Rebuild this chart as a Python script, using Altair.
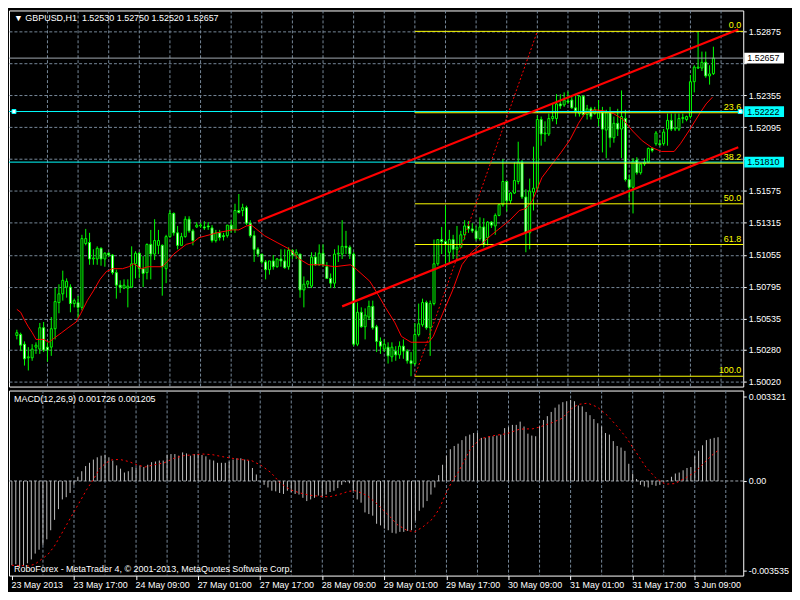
import json
import altair as alt
import pandas as pd

FONT = "Liberation Sans"

# ---------------- data ----------------
opens = [1.50398,1.50406,1.50327,1.50216,1.50216,1.50303,1.50287,1.50461,1.50303,1.50303,
1.50453,1.50666,1.50737,1.50792,1.50792,1.50658,1.50666,1.50627,1.51147,1.51155,
1.51021,1.51021,1.51108,1.51021,1.51068,1.51053,1.50910,1.50808,1.50784,1.50784,
1.50792,1.50982,1.51068,1.50942,1.50910,1.51140,1.51061,1.51132,1.51132,1.50942,
1.51203,1.51392,1.51234,1.51132,1.51203,1.51345,1.51250,1.51282,1.51290,1.51282,
1.51290,1.51274,1.51171,1.51234,1.51211,1.51211,1.51297,1.51258,1.51416,1.51416,
1.51439,1.51313,1.51211,1.51100,1.51061,1.50997,1.50934,1.51005,1.50958,1.51021,
1.51005,1.50958,1.51092,1.51053,1.51061,1.50769,1.50816,1.50800,1.51037,1.50974,
1.51068,1.50958,1.50863,1.50824,1.51061,1.51061,1.51124,1.51116,1.51061,1.50327,
1.50587,1.50469,1.50548,1.50635,1.50469,1.50350,1.50287,1.50303,1.50224,1.50271,
1.50240,1.50311,1.50271,1.50192,1.50169,1.50406,1.50485,1.50666,1.50461,1.50658,
1.50982,1.51179,1.51163,1.51076,1.51179,1.51100,1.51116,1.51218,1.51290,1.51266,
1.51250,1.51187,1.51282,1.51195,1.51321,1.51290,1.51376,1.51463,1.51652,1.51495,
1.51558,1.51652,1.51810,1.51526,1.51234,1.51566,1.51597,1.52157,1.52039,1.52039,
1.52165,1.52165,1.52284,1.52276,1.52307,1.52315,1.52252,1.52205,1.52347,1.52197,
1.52244,1.52205,1.52165,1.52213,1.52071,1.52213,1.52008,1.52126,1.52079,1.52165,
1.51668,1.51605,1.51826,1.51724,1.51795,1.51810,1.51921,1.51960,1.51960,1.51960,
1.52079,1.52150,1.52079,1.52079,1.52165,1.52157,1.52181,1.52465,1.52576,1.52576,
1.52623,1.52512,1.52530]

highs = [1.50445,1.50421,1.50350,1.50303,1.50327,1.50342,1.50500,1.50508,1.50342,1.50548,
1.50785,1.50815,1.50926,1.50863,1.50815,1.50698,1.50721,1.51218,1.51266,1.51234,
1.51100,1.51124,1.51116,1.51076,1.51076,1.51061,1.50934,1.50847,1.50855,1.50855,
1.51124,1.51084,1.51076,1.51045,1.51147,1.51258,1.51345,1.51258,1.51140,1.51218,
1.51416,1.51400,1.51290,1.51234,1.51369,1.51369,1.51266,1.51321,1.51313,1.51329,
1.51321,1.51297,1.51258,1.51258,1.51234,1.51297,1.51337,1.51471,1.51550,1.51471,
1.51455,1.51337,1.51250,1.51116,1.51061,1.51013,1.51005,1.51053,1.51029,1.51100,
1.51100,1.51116,1.51100,1.51100,1.51061,1.50879,1.50847,1.51076,1.51076,1.51140,
1.51140,1.50997,1.50903,1.51100,1.51132,1.51337,1.51250,1.51132,1.51076,1.50666,
1.50627,1.50619,1.50682,1.50682,1.50485,1.50382,1.50366,1.50342,1.50342,1.50311,
1.50350,1.50366,1.50287,1.50263,1.50500,1.50658,1.50698,1.50682,1.50682,1.51179,
1.51179,1.51282,1.51455,1.51258,1.51218,1.51290,1.51250,1.51337,1.51329,1.51313,
1.51290,1.51360,1.51353,1.51329,1.51329,1.51392,1.51471,1.51834,1.51652,1.51566,
1.51810,1.51976,1.51826,1.51589,1.51676,1.51936,1.52189,1.52181,1.52142,1.52205,
1.52292,1.52363,1.52363,1.52378,1.52386,1.52355,1.52355,1.52355,1.52355,1.52276,
1.52260,1.52260,1.52315,1.52260,1.52236,1.52260,1.52181,1.52244,1.52394,1.52236,
1.51708,1.51842,1.51850,1.51802,1.51842,1.51929,1.51929,1.52063,1.51992,1.52079,
1.52205,1.52205,1.52205,1.52205,1.52205,1.52189,1.52520,1.52599,1.52875,1.52710,
1.52710,1.52599,1.52750]

lows = [1.50366,1.50271,1.50153,1.50113,1.50192,1.50248,1.50248,1.50263,1.50184,1.50232,
1.50366,1.50579,1.50682,1.50706,1.50587,1.50627,1.50540,1.50603,1.51132,1.50974,
1.50974,1.50974,1.50966,1.50958,1.51037,1.50894,1.50698,1.50745,1.50776,1.50627,
1.50784,1.50863,1.50863,1.50792,1.50855,1.50855,1.51013,1.51061,1.50722,1.50824,
1.51195,1.51211,1.51100,1.51132,1.51195,1.51234,1.51132,1.51274,1.51274,1.51258,
1.51258,1.51155,1.51155,1.51171,1.51171,1.51195,1.51234,1.51234,1.51392,1.51369,
1.51297,1.51195,1.50997,1.51037,1.50982,1.50855,1.50894,1.50934,1.50950,1.50958,
1.50942,1.50934,1.51021,1.51021,1.50706,1.50627,1.50784,1.50784,1.50966,1.50966,
1.50958,1.50863,1.50784,1.50784,1.50997,1.51021,1.51061,1.51021,1.50311,1.50311,
1.50461,1.50366,1.50524,1.50445,1.50263,1.50248,1.50263,1.50169,1.50184,1.50192,
1.50208,1.50208,1.50169,1.50066,1.50153,1.50390,1.50469,1.50445,1.50232,1.50643,
1.50966,1.51061,1.50982,1.50982,1.51021,1.51021,1.51116,1.51179,1.51234,1.51234,
1.51171,1.51171,1.51116,1.51132,1.51274,1.51218,1.51369,1.51447,1.51408,1.51471,
1.51550,1.51629,1.51510,1.51076,1.51100,1.51416,1.51581,1.51944,1.51976,1.52023,
1.52142,1.52118,1.52244,1.52260,1.52284,1.52244,1.52181,1.52181,1.52181,1.52157,
1.52157,1.52197,1.52102,1.51889,1.51842,1.51929,1.51968,1.52023,1.51842,1.51652,
1.51495,1.51392,1.51708,1.51708,1.51779,1.51802,1.51889,1.51944,1.51944,1.51944,
1.51944,1.52063,1.52063,1.52063,1.52126,1.52142,1.52165,1.52378,1.52568,1.52552,
1.52497,1.52441,1.52520]

closes = [1.50421,1.50319,1.50208,1.50224,1.50287,1.50319,1.50461,1.50279,1.50279,1.50453,
1.50674,1.50737,1.50847,1.50839,1.50658,1.50682,1.50627,1.51187,1.51187,1.51021,
1.51029,1.51108,1.51021,1.51068,1.51053,1.50910,1.50808,1.50792,1.50808,1.50800,
1.50982,1.51068,1.50942,1.50903,1.51140,1.51061,1.51171,1.51171,1.50958,1.51203,
1.51392,1.51234,1.51132,1.51203,1.51345,1.51250,1.51171,1.51297,1.51297,1.51274,
1.51282,1.51171,1.51234,1.51195,1.51203,1.51297,1.51258,1.51416,1.51400,1.51439,
1.51313,1.51211,1.51100,1.51061,1.50997,1.50934,1.51005,1.50958,1.51021,1.51005,
1.50950,1.51092,1.51053,1.51076,1.50769,1.50816,1.50839,1.51037,1.50974,1.51068,
1.50974,1.50863,1.50824,1.51061,1.51068,1.51124,1.51116,1.51061,1.50327,1.50587,
1.50469,1.50564,1.50635,1.50461,1.50350,1.50311,1.50327,1.50232,1.50303,1.50240,
1.50311,1.50271,1.50192,1.50169,1.50406,1.50493,1.50666,1.50461,1.50658,1.50982,
1.51179,1.51163,1.51140,1.51179,1.51100,1.51116,1.51218,1.51290,1.51266,1.51250,
1.51187,1.51282,1.51140,1.51321,1.51297,1.51376,1.51463,1.51652,1.51495,1.51558,
1.51660,1.51810,1.51526,1.51234,1.51574,1.51597,1.52157,1.52039,1.52047,1.52165,
1.52181,1.52284,1.52268,1.52315,1.52299,1.52252,1.52228,1.52347,1.52197,1.52244,
1.52181,1.52236,1.52213,1.52079,1.52213,1.52008,1.52126,1.52079,1.52181,1.51668,
1.51605,1.51818,1.51724,1.51795,1.51810,1.51921,1.51905,1.52047,1.51952,1.52055,
1.52150,1.52079,1.52087,1.52165,1.52173,1.52181,1.52465,1.52584,1.52584,1.52623,
1.52512,1.52528,1.52657]

macd_hist = [-0.003325,-0.003287,-0.003377,-0.003351,-0.003249,-0.003095,-0.002865,-0.002711,-0.002520,-0.002302,
-0.001944,-0.001535,-0.001113,-0.000729,-0.000640,-0.000473,-0.000153,0.000166,0.000384,0.000588,
0.000716,0.000844,0.000934,0.000998,0.001036,0.000934,0.000806,0.000614,0.000486,0.000333,
0.000384,0.000550,0.000512,0.000614,0.000550,0.000640,0.000742,0.000767,0.000806,0.000806,
0.001036,0.001062,0.001062,0.000998,0.001126,0.001087,0.000998,0.001062,0.001062,0.001023,
0.000972,0.000844,0.000806,0.000716,0.000716,0.000716,0.000767,0.000844,0.000895,0.000895,
0.000844,0.000806,0.000512,0.000256,-0.000026,-0.000153,-0.000256,-0.000384,-0.000409,-0.000473,
-0.000512,-0.000384,-0.000435,-0.000512,-0.000537,-0.000665,-0.000793,-0.000729,-0.000665,-0.000576,
-0.000601,-0.000537,-0.000435,-0.000384,-0.000281,-0.000153,-0.000051,-0.000090,-0.000384,-0.000729,
-0.000857,-0.001241,-0.001305,-0.001369,-0.001688,-0.001752,-0.001880,-0.001944,-0.002046,-0.002072,
-0.002008,-0.002008,-0.001970,-0.001944,-0.001560,-0.001177,-0.001049,-0.000793,-0.000537,-0.000256,
0.000230,0.000640,0.000998,0.001253,0.001381,0.001471,0.001612,0.001765,0.001829,0.001893,
0.001893,0.001701,0.001701,0.001765,0.001765,0.001791,0.001829,0.002085,0.002123,0.002213,
0.002213,0.002341,0.002149,0.001867,0.001791,0.001765,0.002149,0.002405,0.002558,0.002724,
0.002891,0.003018,0.003108,0.003146,0.003198,0.003146,0.002980,0.002942,0.002724,0.002596,
0.002443,0.002277,0.002149,0.001893,0.001829,0.001573,0.001381,0.001317,0.001189,0.000678,
0.000294,0.000077,-0.000153,-0.000217,-0.000256,-0.000153,-0.000192,-0.000153,-0.000026,0.000020,
0.000166,0.000294,0.000333,0.000422,0.000512,0.000550,0.000972,0.001189,0.001407,0.001612,
0.001663,0.001701,0.001726]

ma_i = [0,1,2,3,4,5,7,8.4,10,11.75,13.4,15.5,16.75,18.4,20,21.75,23.4,25,27.6,29.25,30.5,32.6,
        34.25,38,39.25,41,42.6,44.25,46,47.6,50.5,52.2,56.3,58,60,61.3,64.7,68,71.3,73.8,76.3,
        79.7,83,87.2,88.8,92.2,94.25,96.3,98.8,100.5,103,107.6,108.8,111.3,113.8,116.3,118.8,
        121.3,123.8,126.3,128.8,131.3,133,134.7,137.2,139.7,142.2,144.5,146.75,148.4,150.9,
        153.4,155.9,158.4,160.9,163.4,165.9,168.4,171.75,173.4,175.9,178.4,180.1,181.75]
ma_price = [1.50611,1.50587,1.50524,1.50469,1.50422,1.50366,1.50366,1.50343,1.50382,1.50422,
            1.50461,1.50508,1.50579,1.50682,1.50761,1.50856,1.50919,1.50942,1.50942,1.50958,
            1.50982,1.50942,1.50958,1.50958,1.50998,1.51061,1.51100,1.51140,1.51155,1.51195,
            1.51219,1.51234,1.51258,1.51258,1.51290,1.51297,1.51211,1.51155,1.51100,1.51021,
            1.50974,1.50974,1.50958,1.50974,1.50935,1.50840,1.50737,1.50627,1.50501,1.50390,
            1.50343,1.50343,1.50390,1.50579,1.50761,1.50974,1.51077,1.51140,1.51211,1.51274,
            1.51337,1.51416,1.51432,1.51495,1.51684,1.51787,1.51889,1.51990,1.52126,1.52205,
            1.52236,1.52228,1.52205,1.52157,1.52063,1.51984,1.51929,1.51897,1.51897,1.51960,
            1.52079,1.52205,1.52284,1.52339]

sig_i = [0,4.25,5.9,7.6,9.25,10.9,12.6,14.25,15.9,17.6,19.25,20.9,22.6,24.25,25.9,28,30.1,32.2,
         34.25,36.75,39.25,41.75,44.25,46.75,49.25,51.75,54.25,56.75,59.25,61.75,64.25,66.75,
         69.25,71.75,74.25,76.75,79.25,81.75,84.25,86.75,88.4,90.1,91.75,94.25,95.9,97.6,99.25,
         101.75,103.8,105.9,108.4,110.1,111.75,113.4,115.1,116.75,118.4,120.9,124.25,127.6,
         130.9,134.25,135.9,139.25,141.75,144.25,145.9,148.4,150.9,153.4,155.9,158.4,160.9,
         163.4,165.9,168.4,170.9,173.4,175.9,178.4,180.1,182]
sig_val = [-0.003325,-0.003351,-0.003287,-0.003095,-0.002903,-0.002584,-0.002136,-0.001688,-0.001241,
           -0.000793,-0.000345,0.000038,0.000486,0.000716,0.000844,0.000844,0.000767,0.000640,
           0.000550,0.000640,0.000716,0.000895,0.000998,0.001036,0.001062,0.001036,0.000959,
           0.000895,0.000844,0.000806,0.000614,0.000333,-0.000090,-0.000345,-0.000473,-0.000563,
           -0.000601,-0.000627,-0.000537,-0.000409,-0.000384,-0.000473,-0.000601,-0.000921,
           -0.001177,-0.001432,-0.001714,-0.001944,-0.002008,-0.001816,-0.001496,-0.001113,
           -0.000537,-0.000026,0.000358,0.000844,0.001317,0.001675,0.001791,0.001867,0.002046,
           0.002059,0.002123,0.002302,0.002468,0.002852,0.003018,0.003070,0.002916,0.002596,
           0.002174,0.001701,0.001126,0.000550,0.000128,-0.000128,-0.000102,0.000102,0.000333,
           0.000716,0.000972,0.001205]

price_ticks = [1.52875,1.52615,1.52355,1.52095,1.51835,1.51575,1.51315,1.51055,1.50795,1.50535,1.50280,1.50020]
covered_ticks = [1.52615, 1.51835]   # hidden behind the price boxes in the reference
time_tick_i = [0,16,32,48,64,80,96,112,128,144,160,176]
time_labels = ["23 May 2013","23 May 17:00","24 May 09:00","27 May 01:00","27 May 17:00",
               "28 May 09:00","29 May 01:00","29 May 17:00","30 May 09:00","31 May 01:00",
               "31 May 17:00","3 Jun 09:00"]
vgrid_i = list(range(8, 189, 8))
macd_ticks = [0.003321, 0.0, -0.003535]
macd_tick_labels = ["0.003321", "0.00", "-0.003535"]

fib_levels = [0.0, 23.6, 38.2, 50.0, 61.8, 100.0]
fib_labels = ["0.0", "23.6", "38.2", "50.0", "61.8", "100.0"]
fib_high = 1.52875
fib_low = 1.50066
fib_start_i = 104
fib_end_i = 136

upper_i = [63, 188.5]
upper_p = [1.51329, 1.52890]
lower_i = [85, 188.5]
lower_p = [1.50635, 1.51931]

bid_price = 1.52657
hline_prices = [1.52222, 1.51810]

# ---------------- layout / style ----------------
W, H1, H2 = 738, 378, 186
GRID = "#778899"
LIME = "#00FF00"
CYAN = "#00FFFF"
xs = alt.Scale(domain=[-0.75, 188.5], nice=False, zero=False)
ys = alt.Scale(domain=[1.49982, 1.53045], nice=False, zero=False)
ms = alt.Scale(domain=[-0.003733, 0.003568], nice=False, zero=False)

hide_cond = " || ".join(f"abs(datum.value - {v}) < 0.000005" for v in covered_ticks)
price_label_expr = f"({hide_cond}) ? '' : format(datum.value, '.5f')"

AX_MAIN_X = alt.Axis(labels=False, ticks=False, domain=False, grid=False, title=None)
AX_MAIN_Y = alt.Axis(orient="right", values=price_ticks, labelExpr=price_label_expr, grid=True,
                     gridDash=[3, 2], gridColor=GRID, gridWidth=1, labelColor="white",
                     tickColor="white", tickSize=3, domain=False, title=None, labelFont=FONT,
                     labelFontSize=9, labelPadding=2, labelOverlap=False)
label_expr = json.dumps(time_labels) + "[round(datum.value / 16)]"
macd_label_expr = (f"datum.value > 0.001 ? '{macd_tick_labels[0]}' : "
                   f"(datum.value < -0.001 ? '{macd_tick_labels[2]}' : '{macd_tick_labels[1]}')")
AX_MACD_X = alt.Axis(values=time_tick_i, labelExpr=label_expr, labelAlign="left", labelColor="white",
                     tickColor="white", tickSize=4, domain=False, grid=False, title=None,
                     labelFont=FONT, labelFontSize=9, labelPadding=1, labelOffset=-1,
                     labelFlush=False, labelOverlap=False)
AX_MACD_Y = alt.Axis(orient="right", values=macd_ticks, labelExpr=macd_label_expr, labelColor="white",
                     tickColor="white", tickSize=3, domain=False, grid=False, title=None,
                     labelFont=FONT, labelFontSize=9, labelPadding=2, labelOverlap=False)

X = lambda f="i:Q": alt.X(f, scale=xs, axis=AX_MAIN_X)
Yp = lambda f: alt.Y(f, scale=ys, axis=AX_MAIN_Y)
XM = lambda f="i:Q": alt.X(f, scale=xs, axis=AX_MACD_X)
YM = lambda f: alt.Y(f, scale=ms, axis=AX_MACD_Y)

n = min(len(opens), len(highs), len(lows), len(closes))
df = pd.DataFrame({"i": list(range(n)), "open": opens[:n], "high": highs[:n],
                   "low": lows[:n], "close": closes[:n]})
df["high"] = df[["high", "open", "close"]].max(axis=1)
df["low"] = df[["low", "open", "close"]].min(axis=1)
df["bull"] = df["close"] >= df["open"]

vgrid_df = pd.DataFrame({"i": vgrid_i})
vgrid_main = alt.Chart(vgrid_df).mark_rule(color=GRID, strokeDash=[3, 2], strokeWidth=1).encode(x=X())

wicks = alt.Chart(df).mark_rule(color=LIME, strokeWidth=1).encode(x=X(), y=Yp("low:Q"), y2="high:Q")

bodies = alt.Chart(df).mark_bar(size=2, stroke=LIME, strokeWidth=1).encode(
    x=X(), y=Yp("open:Q"), y2="close:Q",
    fill=alt.condition("datum.bull", alt.value("black"), alt.value("white")))

ma_df = pd.DataFrame({"i": ma_i, "p": ma_price})
ma = alt.Chart(ma_df).mark_line(color="#FF0000", strokeWidth=1).encode(x=X(), y=Yp("p:Q"))

hl = alt.Chart(pd.DataFrame({"p": hline_prices})).mark_rule(color=CYAN, strokeWidth=1).encode(y=Yp("p:Q"))
bid = alt.Chart(pd.DataFrame({"p": [bid_price]})).mark_rule(color="#A0A8B0", strokeWidth=1).encode(y=Yp("p:Q"))

fib_df = pd.DataFrame({"lvl": fib_levels, "lab": fib_labels})
fib_df["p"] = fib_high - (fib_high - fib_low) * fib_df["lvl"] / 100.0
fib_df["i0"] = fib_start_i
fib_lines = alt.Chart(fib_df).mark_rule(color="#FFFF00", strokeWidth=1).encode(
    x=X("i0:Q"), x2=alt.value(W), y=Yp("p:Q"))
fib_text = alt.Chart(fib_df).mark_text(align="right", baseline="bottom", dy=-1, color="#FFFF00",
                                       font=FONT, fontSize=9).encode(
    x=alt.value(W - 2), y=Yp("p:Q"), text="lab:N")

diag_df = pd.DataFrame({"i": [fib_start_i, fib_end_i], "p": [fib_low, fib_high]})
diag = alt.Chart(diag_df).mark_line(color="#FF0000", strokeDash=[2, 2], strokeWidth=1).encode(
    x=X(), y=Yp("p:Q"))

tl_df = pd.DataFrame({"i": upper_i + lower_i, "p": upper_p + lower_p,
                      "line": ["u", "u", "l", "l"]})
trend = alt.Chart(tl_df).mark_line(color="#FF0000", strokeWidth=2.2, clip=True).encode(
    x=X(), y=Yp("p:Q"), detail="line:N")

box_df = pd.DataFrame({"p": [bid_price] + hline_prices,
                       "bg": ["#FFFFFF", CYAN, CYAN]})
box_df["lab"] = box_df["p"].map(lambda v: f"{v:.5f}")
boxes = alt.Chart(box_df).mark_point(
    shape="M-1,-0.27L1,-0.27L1,0.27L-1,0.27Z", filled=True, size=1600, opacity=1,
    strokeWidth=0).encode(x=alt.value(W + 21), y=Yp("p:Q"),
                          fill=alt.Fill("bg:N", scale=None))
box_text = alt.Chart(box_df).mark_text(align="left", baseline="middle", color="black",
                                       font=FONT, fontSize=9).encode(
    x=alt.value(W + 4), y=Yp("p:Q"), text="lab:N")

mark_df = pd.DataFrame({"p": [hline_prices[0]]})
left_marker = alt.Chart(mark_df).mark_square(size=16, fill="white", stroke=CYAN,
                                             strokeWidth=1, opacity=1).encode(
    x=alt.value(5), y=Yp("p:Q"))
right_marker = alt.Chart(mark_df).mark_square(size=16, fill="white", stroke=CYAN,
                                              strokeWidth=1, opacity=1).encode(
    x=alt.value(W - 3), y=Yp("p:Q"))

title_str = ("\u25BC GBPUSD,H1\u00a0 " + f"{opens[-1]:.5f} {highs[-1]:.5f} {lows[-1]:.5f} {closes[-1]:.5f}")
title = alt.Chart(pd.DataFrame({"t": [title_str]})).mark_text(
    align="left", baseline="middle", color="white", font=FONT, fontSize=9).encode(
    x=alt.value(5), y=alt.value(8), text="t:N")

main = alt.layer(vgrid_main, wicks, bodies, ma, bid, hl, fib_lines, diag, trend,
                 fib_text, boxes, box_text, left_marker, right_marker, title).properties(
    width=W, height=H1)

# ---------------- MACD panel ----------------
macd_df = pd.DataFrame({"i": list(range(len(macd_hist))), "v": macd_hist})
sig_df = pd.DataFrame({"i": sig_i, "v": sig_val})

vgrid_macd = alt.Chart(vgrid_df).mark_rule(color=GRID, strokeDash=[3, 2], strokeWidth=1).encode(x=XM())
zero = alt.Chart(pd.DataFrame({"v": [0.0]})).mark_rule(color="#A0A8B0", strokeDash=[3, 2],
                                                       strokeWidth=1).encode(y=YM("v:Q"))
hist = alt.Chart(macd_df).mark_rule(color="#C0C0C0", strokeWidth=1).encode(
    x=XM(), y=YM("v:Q"), y2=alt.datum(0))
signal = alt.Chart(sig_df).mark_line(color="#FF0000", strokeDash=[2, 3], strokeWidth=1).encode(
    x=XM(), y=YM("v:Q"))

macd_title = f"MACD(12,26,9) {macd_hist[-1]:.6f} {sig_val[-1]:.6f}"
macd_txt = alt.Chart(pd.DataFrame({"t": [macd_title]})).mark_text(
    align="left", baseline="middle", color="white", font=FONT, fontSize=9).encode(
    x=alt.value(5), y=alt.value(9), text="t:N")
wm = alt.Chart(pd.DataFrame({"t": ["RoboForex - MetaTrader 4, \u00a9 2001-2013, MetaQuotes Software Corp."]})).mark_text(
    align="left", baseline="middle", color="white", font=FONT, fontSize=9).encode(
    x=alt.value(5), y=alt.value(H2 - 7), text="t:N")

macd = alt.layer(vgrid_macd, zero, hist, signal, macd_txt, wm).properties(width=W, height=H2)

chart = alt.vconcat(main, macd, spacing=2).properties(
    padding={"left": 0, "top": 0, "right": 2, "bottom": 0}
).configure(background="black").configure_view(stroke="white", strokeWidth=1)

chart.save("out.html", embed_options={"renderer": "svg", "actions": False})
